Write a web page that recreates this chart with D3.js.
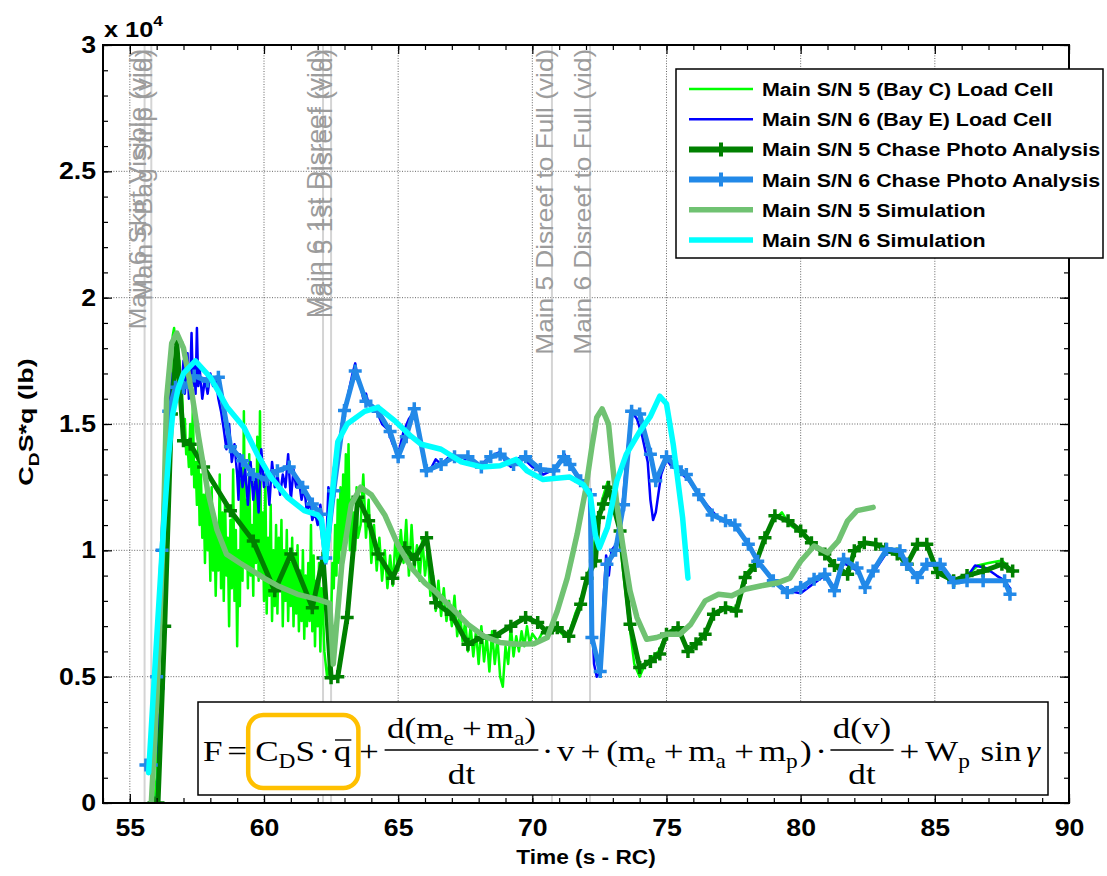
<!DOCTYPE html>
<html><head><meta charset="utf-8">
<script src="https://cdn.jsdelivr.net/npm/d3@7"></script>
<style>body{margin:0;background:#fff}</style>
</head><body>
<svg id="chart" width="1107" height="876"></svg>
<script>
// ---------------- DATA (values in units of 1e4 lb) ----------------
const xTicks = [55, 60, 65, 70, 75, 80, 85, 90];
const xTickLabels = ["55", "60", "65", "70", "75", "80", "85", "90"];
const yTicks = [0, 0.5, 1, 1.5, 2, 2.5, 3];
const yTickLabels = ["0", "0.5", "1", "1.5", "2", "2.5", "3"];

const eventTimes = [55.55, 55.8, 62.2, 62.5, 70.73, 72.15];
const eventLabels = ["Main 6 Skirt Visible (vid)", "Main 5 Bag Strip (vid)",
  "Main 6 1st Disreef (vid)", "Main 5 1st Disreef (vid)",
  "Main 5 Disreef to Full (vid)", "Main 6 Disreef to Full (vid)"];

const seriesNames = ["Main S/N 5 (Bay C) Load Cell", "Main S/N 6 (Bay E) Load Cell",
  "Main S/N 5 Chase Photo Analysis", "Main S/N 6 Chase Photo Analysis",
  "Main S/N 5 Simulation", "Main S/N 6 Simulation"];

const loadCell5 = [[55.9,0],[55.95,0.05],[56.0,0.1],[56.05,0.3],[56.1,0.25],[56.15,0.5],[56.2,0.45],[56.25,0.8],[56.3,0.75],[56.35,1.1],[56.4,1.05],[56.45,1.4],[56.5,1.45],[56.55,1.7],[56.6,1.85],[56.65,1.88],[56.7,1.82],[56.75,1.86],[56.8,1.7],[56.85,1.75],[56.9,1.55],[56.95,1.62],[57.0,1.45],[57.05,1.52],[57.1,1.38],[57.15,1.42],[57.2,1.33],[57.25,1.5],[57.3,1.3],[57.35,1.58],[57.4,1.25],[57.45,1.35],[57.5,1.18],[57.55,1.42],[57.6,1.1],[57.65,1.3],[57.7,1.05],[57.75,1.22],[57.8,0.95],[57.85,1.28],[57.9,1.0],[57.95,1.18],[58.0,0.88],[58.05,1.25],[58.1,0.92],[58.15,1.12],[58.2,0.82],[58.25,1.08],[58.3,0.92],[58.35,1.3],[58.4,0.85],[58.45,1.15],[58.5,0.8],[58.55,1.2],[58.6,0.9],[58.65,1.05],[58.7,0.7],[58.75,1.12],[58.8,0.85],[58.85,1.32],[58.9,0.8],[58.95,1.08],[59.0,0.62],[59.05,1.0],[59.1,0.78],[59.15,1.28],[59.2,0.88],[59.25,1.55],[59.3,0.95],[59.35,1.2],[59.4,0.85],[59.45,1.38],[59.5,0.9],[59.55,1.1],[59.6,0.82],[59.65,1.3],[59.7,0.95],[59.75,1.45],[59.8,0.88],[59.85,1.55],[59.9,0.9],[59.95,1.15],[60.0,0.8],[60.05,1.3],[60.1,0.75],[60.15,1.05],[60.2,0.82],[60.25,1.18],[60.3,0.72],[60.35,1.0],[60.4,0.78],[60.45,1.1],[60.5,0.75],[60.55,1.05],[60.6,0.85],[60.65,1.12],[60.7,0.7],[60.75,1.0],[60.8,0.8],[60.85,1.08],[60.9,0.72],[60.95,0.95],[61.0,0.78],[61.05,1.05],[61.1,0.7],[61.15,0.98],[61.2,0.75],[61.25,1.02],[61.3,0.68],[61.35,0.92],[61.4,0.72],[61.45,1.0],[61.5,0.65],[61.55,0.9],[61.6,0.7],[61.65,0.95],[61.7,0.72],[61.75,1.1],[61.8,0.68],[61.85,0.98],[61.9,0.62],[61.95,0.88],[62.0,0.7],[62.05,0.95],[62.1,0.6],[62.15,0.85],[62.2,0.75],[62.25,0.6],[62.3,0.55],[62.35,0.5],[62.4,0.52],[62.45,0.6],[62.5,0.72],[62.55,0.95],[62.6,0.85],[62.65,1.1],[62.7,0.9],[62.75,1.2],[62.8,0.95],[62.85,1.25],[62.9,1.0],[62.95,1.3],[63.0,1.05],[63.05,1.38],[63.1,1.1],[63.15,1.42],[63.2,1.0],[63.25,1.2],[63.3,0.95],[63.35,1.15],[63.4,1.0],[63.45,1.25],[63.5,1.05],[63.6,1.1],[63.7,1.3],[63.8,1.05],[63.9,1.2],[64.0,0.95],[64.1,1.1],[64.2,0.92],[64.3,1.05],[64.4,0.88],[64.5,1.0],[64.6,0.85],[64.7,0.98],[64.8,0.86],[64.9,1.05],[65.0,0.92],[65.1,1.08],[65.2,0.95],[65.3,1.12],[65.4,0.9],[65.5,1.1],[65.6,0.92],[65.7,1.02],[65.8,0.88],[65.9,1.05],[66.0,0.9],[66.1,1.0],[66.2,0.82],[66.3,0.9],[66.4,0.76],[66.5,0.88],[66.6,0.74],[66.7,0.85],[66.8,0.72],[66.9,0.8],[67.0,0.7],[67.1,0.82],[67.2,0.66],[67.3,0.76],[67.4,0.64],[67.5,0.72],[67.6,0.6],[67.7,0.7],[67.8,0.58],[67.9,0.68],[68.0,0.55],[68.1,0.7],[68.2,0.56],[68.3,0.66],[68.4,0.52],[68.5,0.68],[68.6,0.55],[68.7,0.65],[68.8,0.5],[68.9,0.46],[69.0,0.62],[69.1,0.55],[69.2,0.7],[69.3,0.58],[69.4,0.66],[69.5,0.6],[69.6,0.68],[69.7,0.62],[69.8,0.7],[69.9,0.63],[70.0,0.67],[70.2,0.64],[70.4,0.68],[70.6,0.66],[70.8,0.7],[71.0,0.68],[71.2,0.66],[71.4,0.68],[71.6,0.75],[71.8,0.8],[72.0,0.88],[72.2,0.95],[72.4,1.1],[72.6,1.2],[72.8,1.27],[73.0,1.2],[73.2,1.1],[73.4,0.9],[73.6,0.72],[73.8,0.55],[74.0,0.5],[74.2,0.55],[74.4,0.57],[74.7,0.6],[75.0,0.67],[75.4,0.69],[75.8,0.61],[76.1,0.63],[76.5,0.68],[76.8,0.75],[77.2,0.78],[77.6,0.77],[77.9,0.9],[78.3,0.95],[78.7,1.06],[79.0,1.12],[79.3,1.15],[79.6,1.1],[80.0,1.07],[80.4,1.03],[80.9,0.98],[81.3,0.94],[81.75,0.9],[82.0,0.99],[82.4,1.03],[82.8,1.02],[83.2,1.0],[83.6,0.98],[84.0,0.95],[84.35,1.02],[84.7,1.02],[85.1,0.91],[85.7,0.88],[86.2,0.9],[86.6,0.94],[87.0,0.95],[87.5,0.96],[87.9,0.92]];

const loadCell6 = [[56.0,0],[56.05,0.1],[56.1,0.35],[56.15,0.38],[56.2,0.5],[56.25,0.45],[56.3,0.9],[56.35,1.0],[56.4,1.3],[56.45,1.35],[56.5,1.6],[56.55,1.7],[56.6,1.65],[56.7,1.72],[56.8,1.68],[56.9,1.6],[57.0,1.75],[57.05,1.62],[57.1,1.7],[57.15,1.78],[57.2,1.6],[57.25,1.68],[57.3,1.86],[57.35,1.65],[57.4,1.75],[57.45,1.62],[57.5,1.88],[57.55,1.65],[57.6,1.72],[57.7,1.6],[57.8,1.68],[57.9,1.62],[58.0,1.7],[58.1,1.65],[58.2,1.68],[58.3,1.6],[58.4,1.55],[58.5,1.48],[58.6,1.4],[58.7,1.5],[58.8,1.35],[58.9,1.42],[59.0,1.3],[59.05,1.2],[59.1,1.38],[59.2,1.25],[59.3,1.32],[59.4,1.18],[59.5,1.35],[59.6,1.2],[59.7,1.3],[59.8,1.15],[59.9,1.4],[60.0,1.25],[60.1,1.32],[60.2,1.18],[60.3,1.35],[60.4,1.25],[60.5,1.3],[60.6,1.22],[60.7,1.3],[60.8,1.25],[60.9,1.38],[61.0,1.2],[61.1,1.32],[61.2,1.25],[61.3,1.28],[61.4,1.2],[61.5,1.25],[61.6,1.15],[61.7,1.2],[61.8,1.12],[61.9,1.15],[62.0,1.1],[62.1,1.18],[62.2,1.1],[62.3,0.97],[62.35,1.1],[62.4,1.25],[62.5,1.2],[62.6,1.32],[62.7,1.4],[62.8,1.38],[62.9,1.5],[63.0,1.55],[63.1,1.6],[63.2,1.65],[63.3,1.7],[63.4,1.74],[63.5,1.68],[63.6,1.65],[63.7,1.6],[63.8,1.62],[63.9,1.58],[64.0,1.57],[64.2,1.55],[64.4,1.5],[64.6,1.48],[64.8,1.42],[65.0,1.38],[65.2,1.47],[65.4,1.52],[65.6,1.55],[65.8,1.45],[66.0,1.33],[66.2,1.32],[66.4,1.36],[66.6,1.34],[66.8,1.36],[67.0,1.38],[67.2,1.36],[67.4,1.35],[67.6,1.37],[67.8,1.34],[68.0,1.33],[68.2,1.35],[68.4,1.37],[68.6,1.38],[68.8,1.39],[69.0,1.35],[69.2,1.33],[69.4,1.36],[69.6,1.37],[69.8,1.35],[70.0,1.33],[70.2,1.32],[70.4,1.3],[70.6,1.31],[70.8,1.32],[71.0,1.35],[71.2,1.38],[71.4,1.34],[71.6,1.3],[71.8,1.27],[72.0,1.25],[72.15,1.22],[72.2,0.8],[72.3,0.55],[72.4,0.5],[72.55,0.52],[72.65,0.8],[72.75,0.98],[72.85,0.9],[72.95,1.0],[73.1,1.02],[73.3,1.1],[73.5,1.35],[73.7,1.55],[73.9,1.52],[74.1,1.45],[74.3,1.35],[74.4,1.2],[74.5,1.12],[74.6,1.15],[74.8,1.3],[75.0,1.36],[75.2,1.33],[75.4,1.32],[75.6,1.3],[75.8,1.28],[76.0,1.25],[76.5,1.18],[77.0,1.12],[77.5,1.1],[78.0,1.03],[78.5,0.94],[79.0,0.88],[79.5,0.84],[80.0,0.83],[80.5,0.87],[80.9,0.9],[81.3,0.85],[81.6,0.95],[82.1,0.92],[82.4,0.86],[82.7,0.91],[83.2,0.99],[83.7,0.99],[84.0,0.94],[84.35,0.9],[84.7,0.94],[85.2,0.94],[85.7,0.88],[86.1,0.88],[86.5,0.94],[86.9,0.93],[87.3,0.9],[87.6,0.88],[87.8,0.85]];

const chase5 = [[55.9,0.0],[56.05,0.0],[56.3,0.7],[56.55,1.54],[56.75,1.82],[57.0,1.434],[57.25,1.42],[57.75,1.33],[58.75,1.157],[59.6,1.037],[60.4,0.84],[61.0,0.985],[61.8,0.773],[62.2,0.97],[62.5,0.496],[62.75,0.5],[63.1,0.734],[63.5,1.21],[63.9,1.117],[64.25,0.985],[64.8,0.89],[65.25,1.01],[65.6,0.965],[66.06,1.05],[66.4,0.793],[66.98,0.747],[67.6,0.628],[68.1,0.655],[68.6,0.66],[69.2,0.70],[69.75,0.734],[70.2,0.714],[70.56,0.674],[70.93,0.694],[71.36,0.66],[71.8,0.787],[72.04,0.89],[72.35,0.958],[72.47,1.13],[72.65,1.183],[72.84,1.25],[73.0,1.183],[73.27,1.077],[73.64,0.707],[74.0,0.536],[74.4,0.56],[74.75,0.59],[75.0,0.668],[75.43,0.694],[75.8,0.60],[76.1,0.63],[76.44,0.668],[76.75,0.747],[77.2,0.773],[77.6,0.76],[77.93,0.892],[78.3,0.94],[78.67,1.05],[79.04,1.137],[79.53,1.117],[80.0,1.077],[80.4,1.03],[80.9,0.985],[81.26,0.94],[81.75,0.905],[82.0,0.998],[82.37,1.03],[82.8,1.024],[83.17,1.004],[83.6,0.985],[83.97,0.945],[84.35,1.024],[84.7,1.024],[85.1,0.912],[85.7,0.88],[86.2,0.9],[86.8,0.918],[87.5,0.945],[87.9,0.918]];

const chase6 = [[55.6,0.15],[55.8,0.15],[56.0,0.5],[56.2,1.0],[56.45,1.55],[56.7,1.645],[57.0,1.645],[57.4,1.69],[57.9,1.67],[58.3,1.685],[58.75,1.41],[59.2,1.355],[59.6,1.30],[60.1,1.28],[60.5,1.315],[60.94,1.33],[61.44,1.25],[61.8,1.183],[62.1,1.143],[62.3,0.97],[62.6,1.236],[63.0,1.553],[63.4,1.71],[63.8,1.59],[64.25,1.55],[64.7,1.47],[65.0,1.37],[65.3,1.45],[65.6,1.56],[66.05,1.315],[66.6,1.34],[67.1,1.37],[67.6,1.37],[68.1,1.33],[68.45,1.37],[68.8,1.38],[69.3,1.34],[69.75,1.37],[70.3,1.32],[70.8,1.315],[71.17,1.37],[71.4,1.34],[71.8,1.275],[72.16,1.22],[72.22,0.655],[72.53,0.52],[72.78,0.945],[73.1,1.0],[73.4,1.18],[73.7,1.55],[74.0,1.54],[74.4,1.38],[74.6,1.275],[75.0,1.37],[75.37,1.33],[75.74,1.30],[76.2,1.22],[76.7,1.14],[77.2,1.117],[77.55,1.10],[78.05,1.024],[78.4,0.957],[78.98,0.88],[79.5,0.833],[80.0,0.853],[80.5,0.886],[80.9,0.905],[81.26,0.84],[81.6,0.965],[82.1,0.93],[82.4,0.853],[82.7,0.918],[83.2,1.004],[83.7,0.998],[83.95,0.945],[84.35,0.892],[84.7,0.945],[85.2,0.945],[85.7,0.873],[86.2,0.88],[86.8,0.88],[87.6,0.88],[87.8,0.826]];

const sim5 = [[55.8,0.0],[56.0,0.4],[56.25,1.08],[56.37,1.6],[56.56,1.82],[56.75,1.86],[57.0,1.80],[57.3,1.63],[57.56,1.45],[57.9,1.236],[58.25,1.08],[58.6,0.985],[59.1,0.95],[60.0,0.89],[60.5,0.86],[61.25,0.826],[62.0,0.806],[62.45,0.79],[62.58,0.55],[62.9,0.945],[63.25,1.18],[63.6,1.25],[64.0,1.22],[64.5,1.14],[65.0,1.02],[65.5,0.93],[66.0,0.87],[66.36,0.84],[66.98,0.773],[67.6,0.707],[68.2,0.66],[68.8,0.635],[69.44,0.628],[70.06,0.63],[70.56,0.655],[70.93,0.76],[71.3,0.89],[71.67,1.064],[71.98,1.236],[72.22,1.41],[72.4,1.526],[72.6,1.56],[72.84,1.50],[72.96,1.37],[73.15,1.18],[73.4,1.0],[73.64,0.84],[73.9,0.734],[74.26,0.648],[74.63,0.655],[75.0,0.668],[75.5,0.668],[75.9,0.707],[76.44,0.80],[76.94,0.826],[77.43,0.82],[77.93,0.846],[78.54,0.86],[79.16,0.872],[79.6,0.89],[80.0,0.957],[80.5,1.017],[81.0,0.99],[81.4,1.036],[81.75,1.117],[82.1,1.157],[82.7,1.17]];

const sim6 = [[55.7,0.12],[56.0,0.65],[56.25,1.08],[56.45,1.38],[56.6,1.54],[56.8,1.64],[57.0,1.70],[57.44,1.75],[58.0,1.685],[58.63,1.566],[59.25,1.487],[59.75,1.38],[60.25,1.29],[60.87,1.21],[61.5,1.157],[62.0,1.14],[62.15,1.12],[62.3,0.96],[62.5,1.18],[62.75,1.43],[63.1,1.5],[63.75,1.55],[64.25,1.566],[64.9,1.51],[65.5,1.45],[65.86,1.42],[66.6,1.40],[67.35,1.35],[68.1,1.33],[68.8,1.335],[69.4,1.36],[69.8,1.315],[70.4,1.28],[71.4,1.29],[71.9,1.26],[72.16,1.22],[72.35,1.06],[72.5,1.01],[72.8,1.09],[73.15,1.275],[73.5,1.38],[74.0,1.47],[74.4,1.53],[74.75,1.61],[75.0,1.58],[75.25,1.42],[75.6,1.13],[75.8,0.89]];

const seriesData = [loadCell5, loadCell6, chase5, chase6, sim5, sim6];

// ---------------- STYLE ----------------
const seriesStyle = [
  {color: "#00ff00", width: 2.5, marker: false},
  {color: "#0000ff", width: 2.5, marker: false},
  {color: "#008000", width: 5, marker: true},
  {color: "#2289e8", width: 5, marker: true},
  {color: "#70c272", width: 5.5, marker: false},
  {color: "#00ffff", width: 5.5, marker: false}
];
const SANS = "'Liberation Sans', Arial, Helvetica, sans-serif";
const SERIF = "'Liberation Serif', 'Times New Roman', serif";

const svg = d3.select("#chart");
const W = 1107, H = 876;
const m = {l: 103, r: 1069, t: 45, b: 803};
const x = d3.scaleLinear().domain([54, 90]).range([m.l, m.r]);
const y = d3.scaleLinear().domain([0, 3]).range([m.b, m.t]);

// stretch text along its reading direction (reference text renders wide)
function stretch(sel, sx, rot) {
  sel.each(function () {
    const t = d3.select(this);
    const tx = +t.attr("x") || 0, ty = +t.attr("y") || 0;
    t.attr("x", 0).attr("y", 0)
      .attr("transform", `translate(${tx},${ty})${rot ? ` rotate(${rot})` : ""} scale(${sx},1)`);
  });
}

svg.append("rect").attr("width", W).attr("height", H).attr("fill", "#fff");

svg.append("defs").append("clipPath").attr("id", "clip")
  .append("rect").attr("x", m.l).attr("y", m.t).attr("width", m.r - m.l).attr("height", m.b - m.t);

// grid
const grid = svg.append("g").attr("stroke", "#555").attr("stroke-width", 0.9).attr("stroke-dasharray", "1,1.6");
grid.selectAll(".gx").data(xTicks.filter(d => d > 54 && d < 90)).join("line")
  .attr("x1", d => x(d)).attr("x2", d => x(d)).attr("y1", m.t).attr("y2", m.b);
grid.selectAll(".gy").data(yTicks.filter(d => d > 0 && d < 3)).join("line")
  .attr("y1", d => y(d)).attr("y2", d => y(d)).attr("x1", m.l).attr("x2", m.r);

// event lines + labels
const ev = svg.append("g");
ev.selectAll("line").data(eventTimes).join("line")
  .attr("x1", d => x(d)).attr("x2", d => x(d)).attr("y1", m.t).attr("y2", m.b)
  .attr("stroke", "#d4d4d4").attr("stroke-width", 2);
ev.selectAll("text").data(eventTimes).join("text")
  .attr("x", d => x(d) + 1).attr("y", y(2.985))
  .attr("text-anchor", "end").attr("font-family", SANS).attr("font-size", 23)
  .attr("fill", "#9c9c9c").text((d, i) => eventLabels[i])
  .call(stretch, 1.14, -90);

// data
const plot = svg.append("g").attr("clip-path", "url(#clip)");
const line = d3.line().x(d => x(d[0])).y(d => y(d[1]));
const plusPath = a => `M${-a},0H${a}M0,${-a}V${a}`;
seriesData.forEach((data, i) => {
  const st = seriesStyle[i];
  plot.append("path").datum(data).attr("d", line).attr("fill", "none")
    .attr("stroke", st.color).attr("stroke-width", st.width)
    .attr("stroke-linejoin", "round").attr("stroke-linecap", "round");
  if (st.marker) {
    plot.append("g").selectAll("path").data(data).join("path")
      .attr("transform", d => `translate(${x(d[0])},${y(d[1])})`)
      .attr("d", plusPath(6.5)).attr("stroke", st.color).attr("stroke-width", 3.5).attr("fill", "none");
  }
});

// axes
function styleAxis(g) {
  g.attr("font-family", SANS).attr("font-size", 23).attr("font-weight", "bold");
  g.select(".domain").remove();
  g.selectAll("line").attr("stroke", "#000").attr("stroke-width", 1.2);
  g.selectAll("text").attr("fill", "#000");
}
const xMinor = d3.range(54, 90.01, 1);
const yMinor = d3.range(0, 3.001, 0.1);
svg.append("g").attr("transform", `translate(0,${m.b})`)
  .call(d3.axisBottom(x).tickValues(xTicks).tickFormat((d, i) => xTickLabels[i]).tickSizeInner(-9).tickSizeOuter(0).tickPadding(17)).call(styleAxis)
  .selectAll("text").call(stretch, 1.16);
svg.append("g").attr("transform", `translate(0,${m.b})`)
  .call(d3.axisBottom(x).tickValues(xMinor).tickFormat("").tickSizeInner(-5).tickSizeOuter(0)).call(styleAxis);
svg.append("g").attr("transform", `translate(0,${m.t})`)
  .call(d3.axisTop(x).tickValues(xTicks).tickFormat("").tickSizeInner(-9).tickSizeOuter(0)).call(styleAxis);
svg.append("g").attr("transform", `translate(0,${m.t})`)
  .call(d3.axisTop(x).tickValues(xMinor).tickFormat("").tickSizeInner(-5).tickSizeOuter(0)).call(styleAxis);
svg.append("g").attr("transform", `translate(${m.l},0)`)
  .call(d3.axisLeft(y).tickValues(yTicks).tickFormat((d, i) => yTickLabels[i]).tickSizeInner(-9).tickSizeOuter(0).tickPadding(7)).call(styleAxis)
  .selectAll("text").call(stretch, 1.16);
svg.append("g").attr("transform", `translate(${m.l},0)`)
  .call(d3.axisLeft(y).tickValues(yMinor).tickFormat("").tickSizeInner(-5).tickSizeOuter(0)).call(styleAxis);
svg.append("g").attr("transform", `translate(${m.r},0)`)
  .call(d3.axisRight(y).tickValues(yTicks).tickFormat("").tickSizeInner(-9).tickSizeOuter(0)).call(styleAxis);
svg.append("g").attr("transform", `translate(${m.r},0)`)
  .call(d3.axisRight(y).tickValues(yMinor).tickFormat("").tickSizeInner(-5).tickSizeOuter(0)).call(styleAxis);

svg.append("rect").attr("x", m.l).attr("y", m.t).attr("width", m.r - m.l).attr("height", m.b - m.t)
  .attr("fill", "none").attr("stroke", "#000").attr("stroke-width", 2);

// exponent label
const ex = svg.append("text").attr("x", m.l + 1).attr("y", 37).attr("font-family", SANS)
  .attr("font-weight", "bold").attr("font-size", 22).text("x 10");
ex.append("tspan").attr("font-size", 15).attr("dy", -11).text("4");
ex.call(stretch, 1.15);

// axis titles
svg.append("text").attr("x", (m.l + m.r) / 2).attr("y", 864).attr("text-anchor", "middle")
  .attr("font-family", SANS).attr("font-weight", "bold").attr("font-size", 21).text("Time (s - RC)")
  .call(stretch, 1.08);
const yl = svg.append("text").attr("x", 33).attr("y", 422)
  .attr("text-anchor", "middle").attr("font-family", SANS).attr("font-weight", "bold").attr("font-size", 21);
yl.append("tspan").text("C");
yl.append("tspan").attr("font-size", 15).attr("dy", 6).text("D");
yl.append("tspan").attr("dy", -6).text("S*q (lb)");
yl.call(stretch, 1.28, -90);

// ---------------- equation box ----------------
const eqBox = {x0: 198, y0: 702, x1: 1048, y1: 795};
svg.append("rect").attr("x", eqBox.x0).attr("y", eqBox.y0).attr("width", eqBox.x1 - eqBox.x0)
  .attr("height", eqBox.y1 - eqBox.y0).attr("fill", "#fff").attr("stroke", "#000").attr("stroke-width", 1.5);
const eqG = svg.append("g").attr("font-family", SERIF).attr("fill", "#000");
const FS = 30, SUBFS = 20, BASE = 761, NUMB = 738, DENB = 784, BAR = 750;
const EQ_X0 = 203, EQ_X1 = 1040;
const eqTokens = [
  {t: "F"}, {sp: 4}, {t: "="}, {sp: 1}, {mark: "b0"}, {sp: 6}, {t: "C"}, {sub: "D"}, {t: "S"}, {sp: 3}, {t: "\u00B7"}, {sp: 3}, {t: "q", over: true}, {sp: 6}, {mark: "b1"},
  {sp: 0.5}, {t: "+"}, {sp: 5},
  {frac: [[{t: "d(m"}, {sub: "e"}, {sp: 7}, {t: "+"}, {sp: 4}, {t: "m"}, {sub: "a"}, {t: ")"}], [{t: "dt"}]]},
  {sp: 3}, {t: "\u00B7"}, {sp: 3}, {t: "v"}, {sp: 5}, {t: "+"}, {sp: 5},
  {t: "(m"}, {sub: "e"}, {sp: 7}, {t: "+"}, {sp: 4}, {t: "m"}, {sub: "a"}, {sp: 7}, {t: "+"}, {sp: 4}, {t: "m"}, {sub: "p"}, {sp: 2}, {t: ")"},
  {sp: 3}, {t: "\u00B7"}, {sp: 3},
  {frac: [[{t: "d(v)"}], [{t: "dt"}]]},
  {sp: 5}, {t: "+"}, {sp: 5}, {t: "W"}, {sub: "p"}, {sp: 9}, {t: "sin"}, {sp: 4}, {t: "\u03B3", it: true}
];
const marks = {};
function layout(g, tokens, x0, base) {
  let cx = x0;
  tokens.forEach(tk => {
    if (tk.sp !== undefined) { cx += tk.sp; return; }
    if (tk.mark) { marks[tk.mark] = cx; return; }
    if (tk.frac) {
      const gn = g.append("g"), gd = g.append("g");
      const wn = layout(gn, tk.frac[0], 0, NUMB);
      const wd = layout(gd, tk.frac[1], 0, DENB);
      const wf = Math.max(wn, wd) + 4;
      gn.attr("transform", `translate(${cx + (wf - wn) / 2},0)`);
      gd.attr("transform", `translate(${cx + (wf - wd) / 2},0)`);
      g.append("line").attr("x1", cx).attr("x2", cx + wf).attr("y1", BAR).attr("y2", BAR)
        .attr("stroke", "#000").attr("stroke-width", 1.5);
      cx += wf; return;
    }
    const isSub = tk.sub !== undefined;
    const el = g.append("text").attr("x", cx).attr("y", isSub ? base + 7 : base)
      .attr("font-size", isSub ? SUBFS : FS).text(isSub ? tk.sub : tk.t);
    if (tk.it) el.attr("font-style", "italic");
    const w = el.node().getComputedTextLength();
    if (tk.over) g.append("line").attr("x1", cx + 1).attr("x2", cx + w).attr("y1", base - 21).attr("y2", base - 21)
      .attr("stroke", "#000").attr("stroke-width", 1.4);
    cx += w;
  });
  return cx - x0;
}
const natW = layout(eqG, eqTokens, EQ_X0, BASE);
const eqScale = (EQ_X1 - EQ_X0) / natW;
eqG.attr("transform", `translate(${EQ_X0},0) scale(${eqScale},1) translate(${-EQ_X0},0)`);
const bx0 = EQ_X0 + (marks.b0 - EQ_X0) * eqScale, bx1 = EQ_X0 + (marks.b1 - EQ_X0) * eqScale;
svg.append("rect").attr("x", bx0).attr("y", 715).attr("width", bx1 - bx0).attr("height", 73)
  .attr("rx", 15).attr("fill", "none").attr("stroke", "#ffc000").attr("stroke-width", 4.5);

// ---------------- legend ----------------
const lg = svg.append("g");
lg.append("rect").attr("x", 676).attr("y", 69).attr("width", 427).attr("height", 189)
  .attr("fill", "#fff").attr("stroke", "#000").attr("stroke-width", 1.5);
seriesNames.forEach((name, i) => {
  const st = seriesStyle[i];
  const yb = 96 + i * 30.2;
  const ly = yb - 7;
  lg.append("line").attr("x1", 689).attr("x2", 753).attr("y1", ly).attr("y2", ly)
    .attr("stroke", st.color).attr("stroke-width", st.marker ? 6 : st.width);
  if (st.marker) lg.append("path").attr("transform", `translate(721,${ly})`).attr("d", plusPath(7))
    .attr("stroke", st.color).attr("stroke-width", 4).attr("fill", "none");
  lg.append("text").attr("x", 762).attr("y", yb).attr("font-family", SANS).attr("font-weight", "bold")
    .attr("font-size", 18).text(name).call(stretch, 1.19);
});
</script>
</body></html>
